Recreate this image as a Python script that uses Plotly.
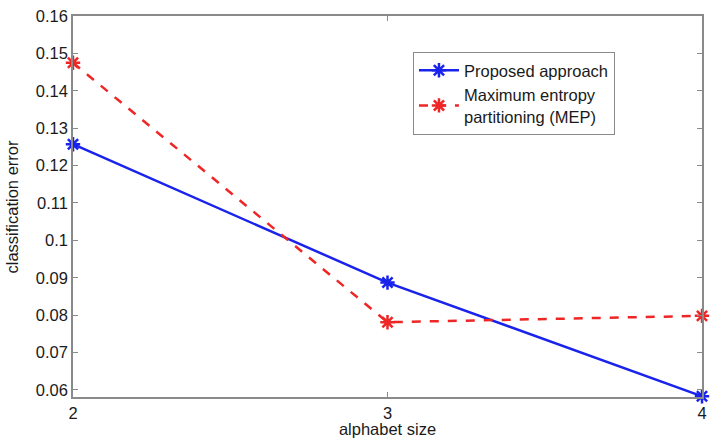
import plotly.graph_objects as go

# Classification error versus alphabet size for the two partitioning schemes
alphabet_size = [2, 3, 4]
proposed_error = [0.1257, 0.0887, 0.0583]
mep_error = [0.1475, 0.0781, 0.0798]

y_ticks = [0.06, 0.07, 0.08, 0.09, 0.10, 0.11, 0.12, 0.13, 0.14, 0.15, 0.16]
y_tick_text = ["0.06", "0.07", "0.08", "0.09", "0.1", "0.11", "0.12", "0.13", "0.14", "0.15", "0.16"]
x_ticks = [2, 3, 4]

FONT = "Liberation Sans, Arial, Helvetica, sans-serif"
AXIS_GREY = "#8a8a8a"
TEXT = "#1a1a1a"
BLUE = "rgb(25,35,235)"
RED = "rgb(238,38,38)"

fig = go.Figure()

fig.add_trace(go.Scatter(
    x=alphabet_size, y=proposed_error,
    mode="lines+markers",
    name="Proposed approach",
    line=dict(color=BLUE, width=2.5),
    marker=dict(symbol="asterisk-open", size=12, color=BLUE, line=dict(color=BLUE, width=2.5)),
    cliponaxis=False,
))

fig.add_trace(go.Scatter(
    x=alphabet_size, y=mep_error,
    mode="lines+markers",
    name="Maximum entropy<br>partitioning (MEP)",
    line=dict(color=RED, width=2.5, dash="dash"),
    marker=dict(symbol="asterisk-open", size=12, color=RED, line=dict(color=RED, width=2.5)),
    cliponaxis=False,
))

fig.update_layout(
    width=710, height=438,
    margin=dict(l=73, r=8, t=16, b=41),
    paper_bgcolor="white",
    plot_bgcolor="white",
    font=dict(family=FONT, size=16, color=TEXT),
    showlegend=True,
    legend=dict(
        x=0.5405, y=0.9055, xanchor="left", yanchor="top",
        bgcolor="white",
        bordercolor=AXIS_GREY, borderwidth=1,
        font=dict(family=FONT, size=16.5, color=TEXT),
        itemwidth=40,
        tracegroupgap=0,
    ),
)

fig.update_xaxes(
    range=[2, 4],
    tickmode="array", tickvals=x_ticks, ticktext=[str(v) for v in x_ticks],
    ticks="inside", ticklen=5, tickcolor=AXIS_GREY,
    showline=True, linecolor=AXIS_GREY, linewidth=1.5, mirror="ticks",
    showgrid=False, zeroline=False,
    tickfont=dict(size=16.5),
    title=dict(text="alphabet size", font=dict(size=16.5), standoff=0),
    automargin=False,
)

fig.update_yaxes(
    range=[0.0581, 0.16],
    tickmode="array", tickvals=y_ticks, ticktext=y_tick_text,
    ticks="inside", ticklen=5, tickcolor=AXIS_GREY,
    showline=True, linecolor=AXIS_GREY, linewidth=1.5, mirror="ticks",
    showgrid=False, zeroline=False,
    tickfont=dict(size=16.5),
    automargin=False,
)

# Vertical axis label placed near the left edge of the figure
fig.add_annotation(
    text="classification error",
    xref="paper", yref="paper",
    x=-0.097, y=0.5, xanchor="center", yanchor="middle",
    textangle=-90, showarrow=False,
    font=dict(family=FONT, size=16.5, color=TEXT),
)

fig.write_html("out.html")
